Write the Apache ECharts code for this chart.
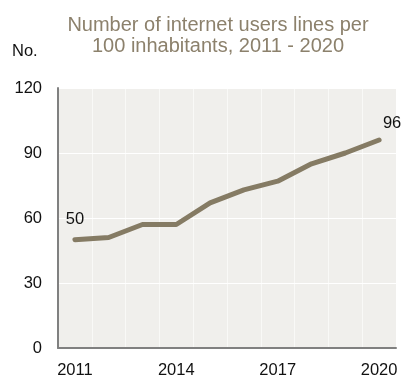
<!DOCTYPE html>
<html>
<head>
<meta charset="utf-8">
<script src="https://cdn.jsdelivr.net/npm/echarts@6/dist/echarts.min.js"></script>
<style>html,body{margin:0;padding:0;background:#fff}#c{width:403px;height:379px}</style>
</head>
<body>
<div id="c"></div>
<script>
const years = ['2011','2012','2013','2014','2015','2016','2017','2018','2019','2020'];
const users = [50, 51, 57, 57, 67, 73, 77, 85, 90, 96];
const yTicks = [0, 30, 60, 90, 120];
const labelledIdx = [0, 9];

const chart = echarts.init(document.getElementById('c'), null, {renderer: 'canvas'});
const lineColor = '#857b64';
const font = 'Liberation Sans';
chart.setOption({
  animation: false,
  backgroundColor: '#ffffff',
  graphic: [{
    type: 'text', x: 218, y: 15,
    style: {text: 'Number of internet users lines per\n100 inhabitants, 2011 - 2020', align: 'center',
      fontSize: 20, lineHeight: 21, fontFamily: font, fill: '#8c816c'}
  }, {
    type: 'text', left: 12, top: 43,
    style: {text: 'No.', fontSize: 16.5, fontFamily: font, fill: '#111'}
  }],
  grid: {left: 58, right: 7, top: 88, bottom: 29, show: true, backgroundColor: '#f0efec', borderWidth: 0},
  xAxis: {
    type: 'category', data: years, boundaryGap: true,
    axisLine: {lineStyle: {color: '#808080', width: 2}},
    axisTick: {show: false},
    axisLabel: {interval: 2, color: '#111', fontSize: 16.5, fontFamily: font, margin: 14},
    splitLine: {show: true, interval: 0, lineStyle: {color: '#ffffff', width: 0.6}}
  },
  yAxis: {
    type: 'value', min: yTicks[0], max: yTicks[yTicks.length-1], interval: 30,
    axisLine: {show: true, lineStyle: {color: '#808080', width: 2}},
    axisTick: {show: false},
    axisLabel: {color: '#111', fontSize: 16.5, fontFamily: font, margin: 16},
    splitLine: {show: true, lineStyle: {color: '#ffffff', width: 1}}
  },
  series: [{
    type: 'line',
    data: users.map((v, i) => {
      if (!labelledIdx.includes(i)) return v;
      return {value: v, label: {show: true, position: 'top', distance: i === 0 ? 11 : 7, offset: i === 0 ? [0, 0] : [13, 0]}};
    }),
    symbol: 'circle', symbolSize: 2, showSymbol: true,
    lineStyle: {color: lineColor, width: 5, cap: 'round', join: 'round'},
    itemStyle: {color: lineColor},
    label: {show: false, color: '#111', fontSize: 16.5, fontFamily: font}
  }]
});
</script>
</body>
</html>
